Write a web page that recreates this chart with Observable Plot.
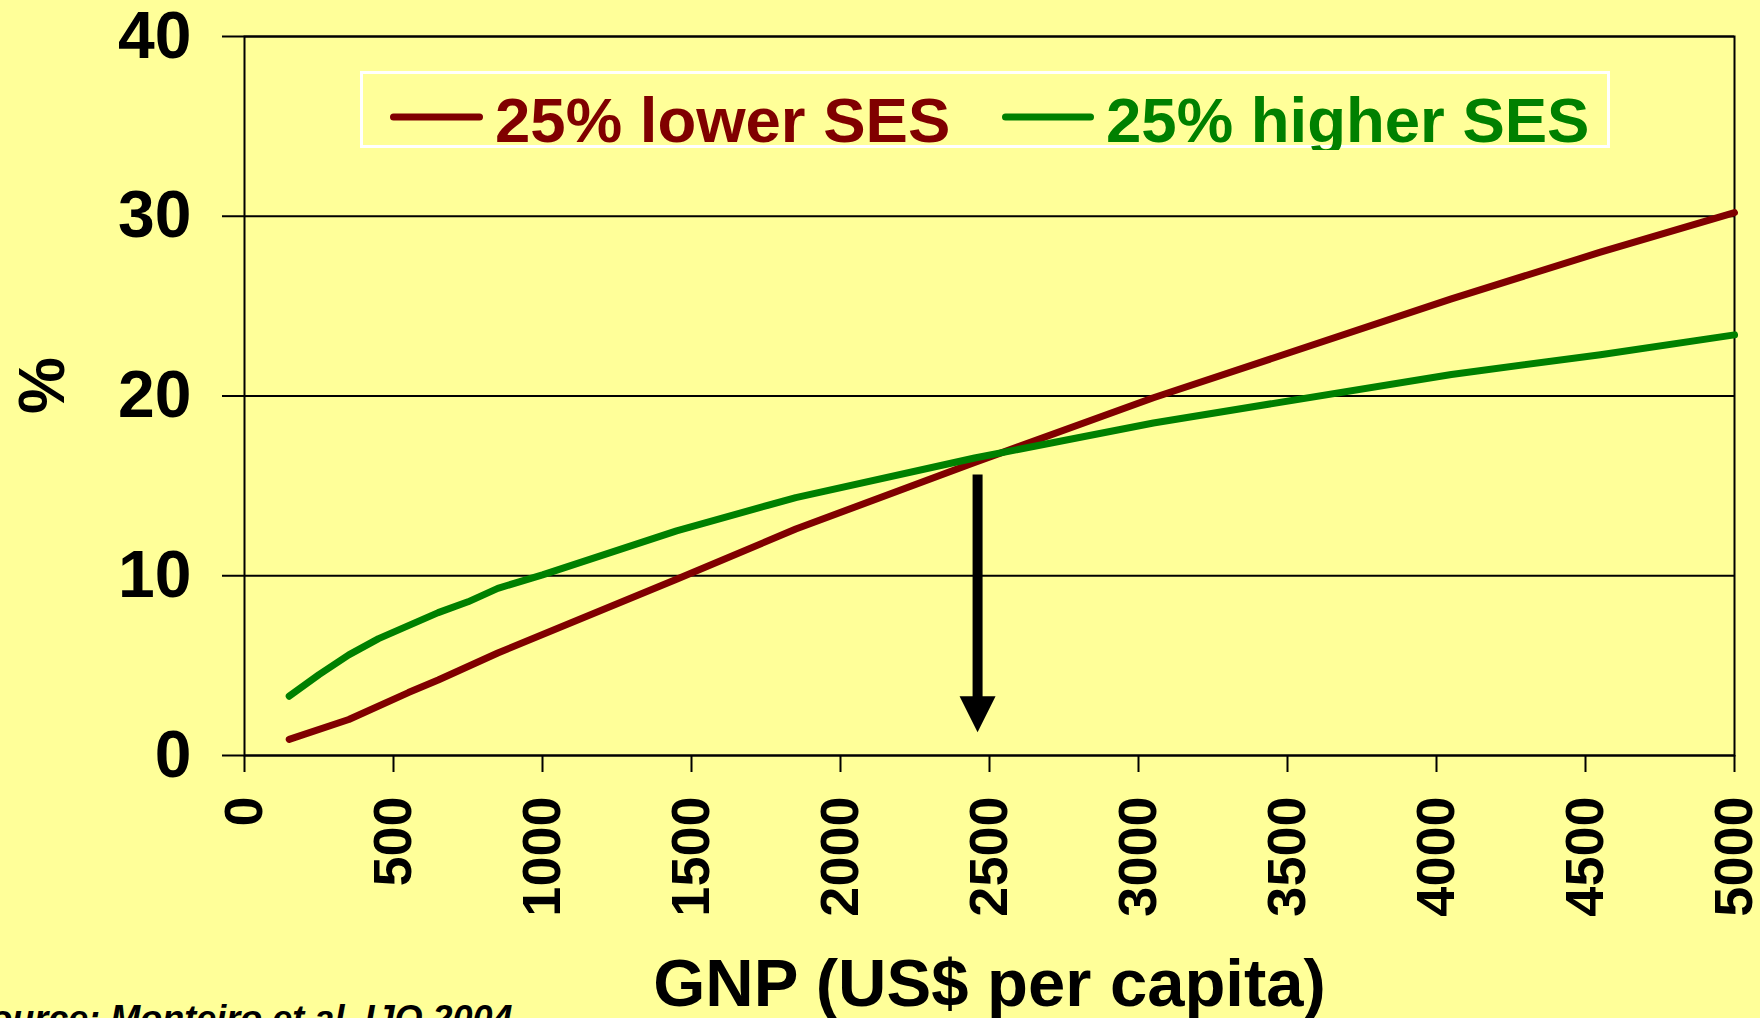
<!DOCTYPE html>
<html>
<head>
<meta charset="utf-8">
<script src="https://cdn.jsdelivr.net/npm/d3@7"></script>
<script src="https://cdn.jsdelivr.net/npm/@observablehq/plot@0.6"></script>
<style>
  html, body { margin: 0; padding: 0; background: #FFFF99; overflow: hidden; }
  #wrap { position: relative; width: 1760px; height: 1018px; }
  #legend { position: absolute; left: 0; top: 0; pointer-events: none; }
</style>
</head>
<body>
<div id="wrap"></div>
<script>
// ---- data ----
const gnpLower  = [150, 350, 550, 650, 850, 1450, 1850, 2450, 3050, 4050, 4550, 5000];
const pctLower  = [0.9, 2.0, 3.5, 4.2, 5.7, 9.8, 12.6, 16.3, 19.9, 25.4, 28.0, 30.2];
const gnpHigher = [150, 250, 350, 450, 650, 750, 850, 1000, 1450, 1850, 2450, 3050, 4050, 4550, 5000];
const pctHigher = [3.3, 4.5, 5.6, 6.5, 7.95, 8.55, 9.3, 10.05, 12.5, 14.35, 16.55, 18.5, 21.2, 22.3, 23.4];
const seriesNames = ["25% lower SES", "25% higher SES"];
const seriesColors = ["#800000", "#008000"];
const xTicks = [0, 500, 1000, 1500, 2000, 2500, 3000, 3500, 4000, 4500, 5000];
const yTicks = [0, 10, 20, 30, 40];
const arrowGnp = [2460];
const arrowTop = [15.6];
const arrowTip = [1.3];
const xLabel = "GNP (US$ per capita)";
const yLabel = "%";
const source = "Source: Monteiro et al. IJO 2004";

const lower = gnpLower.map((g, i) => ({gnp: g, pct: pctLower[i]}));
const higher = gnpHigher.map((g, i) => ({gnp: g, pct: pctHigher[i]}));
const arrow = arrowGnp.map((g, i) => ({gnp: g, top: arrowTop[i], tip: arrowTip[i]}));

const headSymbol = {
  draw(context, size) {
    const r = Math.sqrt(size / Math.PI);
    context.moveTo(-r, -2 * r);
    context.lineTo(r, -2 * r);
    context.lineTo(0, 0);
    context.closePath();
  }
};

const font = "'Liberation Sans', Arial, Helvetica, sans-serif";

const chart = Plot.plot({
  width: 1760,
  height: 1018,
  marginLeft: 244,
  marginRight: 26,
  marginTop: 36,
  marginBottom: 263,
  style: {background: "#FFFF99", fontFamily: font, color: "black"},
  x: {domain: [0, 5000]},
  y: {domain: [0, 40]},
  marks: [
    Plot.gridY(yTicks, {stroke: "black", strokeOpacity: 1, strokeWidth: 2}),
    Plot.frame({stroke: "black", strokeWidth: 2}),
    Plot.axisY(yTicks, {tickSize: 22, tickPadding: 31, fontSize: 66, fontWeight: "bold", label: null, strokeWidth: 2, tickFormat: (d) => String(d)}),
    Plot.axisX(xTicks, {tickSize: 17, tickPadding: 24, tickRotate: -90, fontSize: 54, fontWeight: "bold", label: null, strokeWidth: 2, tickFormat: (d) => String(d)}),
    Plot.line(lower, {x: "gnp", y: "pct", stroke: seriesColors[0], strokeWidth: 7}),
    Plot.line(higher, {x: "gnp", y: "pct", stroke: seriesColors[1], strokeWidth: 7}),
    Plot.ruleX(arrow, {x: "gnp", y1: "top", y2: "tip", stroke: "black", strokeWidth: 10, insetBottom: 30}),
    Plot.dot(arrow, {x: "gnp", y: "tip", symbol: headSymbol, r: 18, fill: "black", stroke: "none"}),
    Plot.text([xLabel], {frameAnchor: "bottom", lineAnchor: "top", dy: 203, fontSize: 67, fontWeight: "bold", fill: "black"}),
    Plot.text([yLabel], {frameAnchor: "left", rotate: -90, dx: -201, dy: 18, fontSize: 64, fontWeight: "bold", fill: "black"}),
    Plot.text([source], {frameAnchor: "bottom-left", textAnchor: "end", lineAnchor: "top", dx: 268, dy: 250, fontSize: 36, fontWeight: "bold", fontStyle: "italic", fill: "black"})
  ]
});
document.getElementById("wrap").appendChild(chart);

// ---- legend overlay ----
const ns = "http://www.w3.org/2000/svg";
const leg = document.createElementNS(ns, "svg");
leg.setAttribute("id", "legend");
leg.setAttribute("width", 1760);
leg.setAttribute("height", 1018);
leg.innerHTML = `
  <defs><clipPath id="legclip"><rect x="360" y="71" width="1250" height="79"></rect></clipPath></defs>
  <rect x="361.5" y="72.5" width="1247" height="74" fill="none" stroke="white" stroke-width="3"></rect>
  <g clip-path="url(#legclip)" font-family="${font}" font-weight="bold" font-size="63.5"></g>`;
const g = leg.querySelector("g");
const items = [
  {x1: 393.5, x2: 479.5, tx: 495},
  {x1: 1005.5, x2: 1090.5, tx: 1106}
];
items.forEach((it, i) => {
  const ln = document.createElementNS(ns, "line");
  ln.setAttribute("x1", it.x1); ln.setAttribute("x2", it.x2);
  ln.setAttribute("y1", 117); ln.setAttribute("y2", 117);
  ln.setAttribute("stroke", seriesColors[i]); ln.setAttribute("stroke-width", 7);
  ln.setAttribute("stroke-linecap", "round");
  g.appendChild(ln);
  const t = document.createElementNS(ns, "text");
  t.setAttribute("x", it.tx); t.setAttribute("y", 141.5);
  t.setAttribute("fill", seriesColors[i]);
  t.textContent = seriesNames[i];
  g.appendChild(t);
});
document.getElementById("wrap").appendChild(leg);
</script>
</body>
</html>
